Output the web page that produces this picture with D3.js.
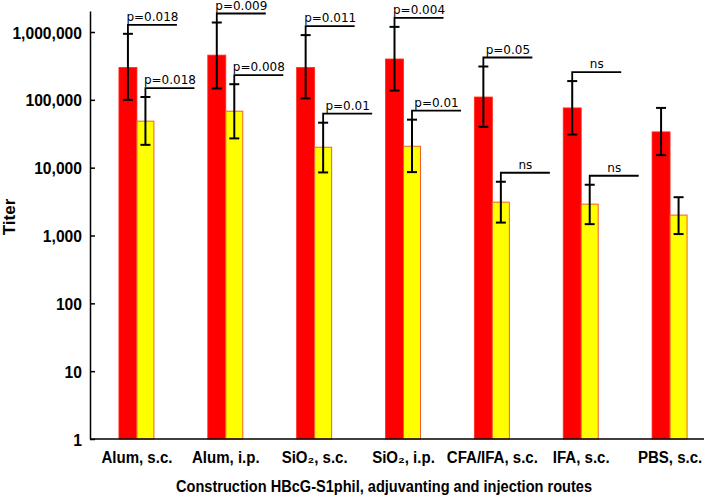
<!DOCTYPE html>
<html><head><meta charset="utf-8">
<script src="https://cdn.jsdelivr.net/npm/d3@7"></script>
<style>
body{margin:0;background:#fff;}
svg{display:block;}
.lab{font-family:"Liberation Sans",Arial,sans-serif;font-weight:bold;fill:#000;}
.ann{font-family:"DejaVu Sans",sans-serif;font-size:12px;fill:#000;}
</style></head>
<body>
<script>
const categories = ["Alum, s.c.","Alum, i.p.","SiO₂, s.c.","SiO₂, i.p.","CFA/IFA, s.c.","IFA, s.c.","PBS, s.c."];
const redValues = [300000, 456000, 300000, 400000, 110000, 76000, 33700];
const redLow    = [100000, 147000, 105000, 137000, 40000, 30800, 15300];
const redHigh   = [940000, 1380000, 900000, 1190000, 310000, 189000, 76000];
const yellowValues = [48500, 68000, 20000, 20700, 3100, 2900, 2000];
const yellowLow    = [21700, 27000, 8500, 8600, 1550, 1470, 1050];
const yellowHigh   = [110000, 170000, 46000, 51000, 6200, 5600, 3670];
const redP    = ["p=0.018","p=0.009","p=0.011","p=0.004","p=0.05","ns",null];
const yellowP = ["p=0.018","p=0.008","p=0.01","p=0.01","ns","ns",null];
const yTicks = [1,10,100,1000,10000,100000,1000000];

const W=708,H=501;
const svg=d3.select("body").append("svg").attr("width",W).attr("height",H);

const yTop = Math.pow(10, 428/ (407/6));
const y=d3.scaleLog().domain([1,yTop]).range([439,11]);
const x=d3.scaleBand().domain(categories).range([92.5,714.5]).padding(0);
const bw=18;
const cx=c=>x(c)+x.bandwidth()/2;

function squeeze(sel,f){
  sel.each(function(){
    const L=this.getComputedTextLength();
    d3.select(this).attr("textLength",L*f).attr("lengthAdjust","spacingAndGlyphs");
  });
}

// y axis
const yAxis=d3.axisLeft(y).tickValues(yTicks).tickFormat(d3.format(",")).tickSizeInner(-5).tickSizeOuter(0).tickPadding(8);
const gy=svg.append("g").attr("transform","translate(90,0)").call(yAxis);
gy.select(".domain").attr("stroke","#000").attr("stroke-width",1.5);
gy.selectAll(".tick line").attr("stroke","#000").attr("stroke-width",1.5);
gy.selectAll(".tick text").attr("dy","0.36em")
  .style("font-family","'Liberation Sans',Arial,sans-serif").style("font-weight","bold").style("font-size","17px").attr("fill","#000");
squeeze(gy.selectAll(".tick text"),0.92);

// bars
const data=categories.map((c,i)=>({c,i}));
const g=svg.append("g");
g.selectAll(".red").data(data).join("rect")
 .attr("x",d=>cx(d.c)-bw).attr("width",bw)
 .attr("y",d=>y(redValues[d.i])).attr("height",d=>y(1)-y(redValues[d.i]))
 .attr("fill","#ff0000").attr("stroke","#ff2a1a").attr("stroke-width",0.8);
g.selectAll(".yel").data(data).join("rect")
 .attr("x",d=>cx(d.c)).attr("width",bw-1)
 .attr("y",d=>y(yellowValues[d.i])).attr("height",d=>y(1)-y(yellowValues[d.i]))
 .attr("fill","#ffff00").attr("stroke","#f0602a").attr("stroke-width",1);

// x axis line
svg.append("line").attr("x1",90).attr("x2",704).attr("y1",y(1)).attr("y2",y(1)).attr("stroke","#000").attr("stroke-width",1.5);

// error bars and significance brackets
function err(xc,lo,hi,p){
  const e=svg.append("g").attr("stroke","#000").attr("stroke-width",2).attr("fill","none");
  e.append("line").attr("x1",xc).attr("x2",xc).attr("y1",y(lo)).attr("y2",y(hi));
  e.append("line").attr("x1",xc-5).attr("x2",xc+5).attr("y1",y(lo)).attr("y2",y(lo));
  e.append("line").attr("x1",xc-5).attr("x2",xc+5).attr("y1",y(hi)).attr("y2",y(hi));
  if(p){
    const yl=y(hi)-9;
    e.append("path").attr("d",`M${xc},${y(hi)}V${yl}H${xc+49}`).attr("stroke-width",1.8);
    svg.append("text").attr("class","ann").attr("x",xc+24.5).attr("y",yl-4).attr("text-anchor","middle").text(p);
  }
}
data.forEach(d=>{
  err(cx(d.c)-bw/2,redLow[d.i],redHigh[d.i],redP[d.i]);
  err(cx(d.c)+bw/2-0.5,yellowLow[d.i],yellowHigh[d.i],yellowP[d.i]);
});

// x labels
const xl=svg.append("g");
xl.selectAll("text").data(data).join("text").attr("class","lab").attr("font-size",16).attr("text-anchor","middle")
  .attr("x",d=>cx(d.c)).attr("y",463).text(d=>d.c);
squeeze(xl.selectAll("text"),0.94);

// axis titles
svg.append("text").attr("class","lab").attr("font-size",17).attr("text-anchor","middle")
  .attr("x",384).attr("y",492).attr("textLength",416).attr("lengthAdjust","spacingAndGlyphs")
  .text("Construction HBcG-S1phil, adjuvanting and injection routes");
svg.append("text").attr("class","lab").attr("font-size",17).attr("text-anchor","middle")
  .attr("transform","translate(15,217) rotate(-90)").text("Titer");
</script>
</body></html>
